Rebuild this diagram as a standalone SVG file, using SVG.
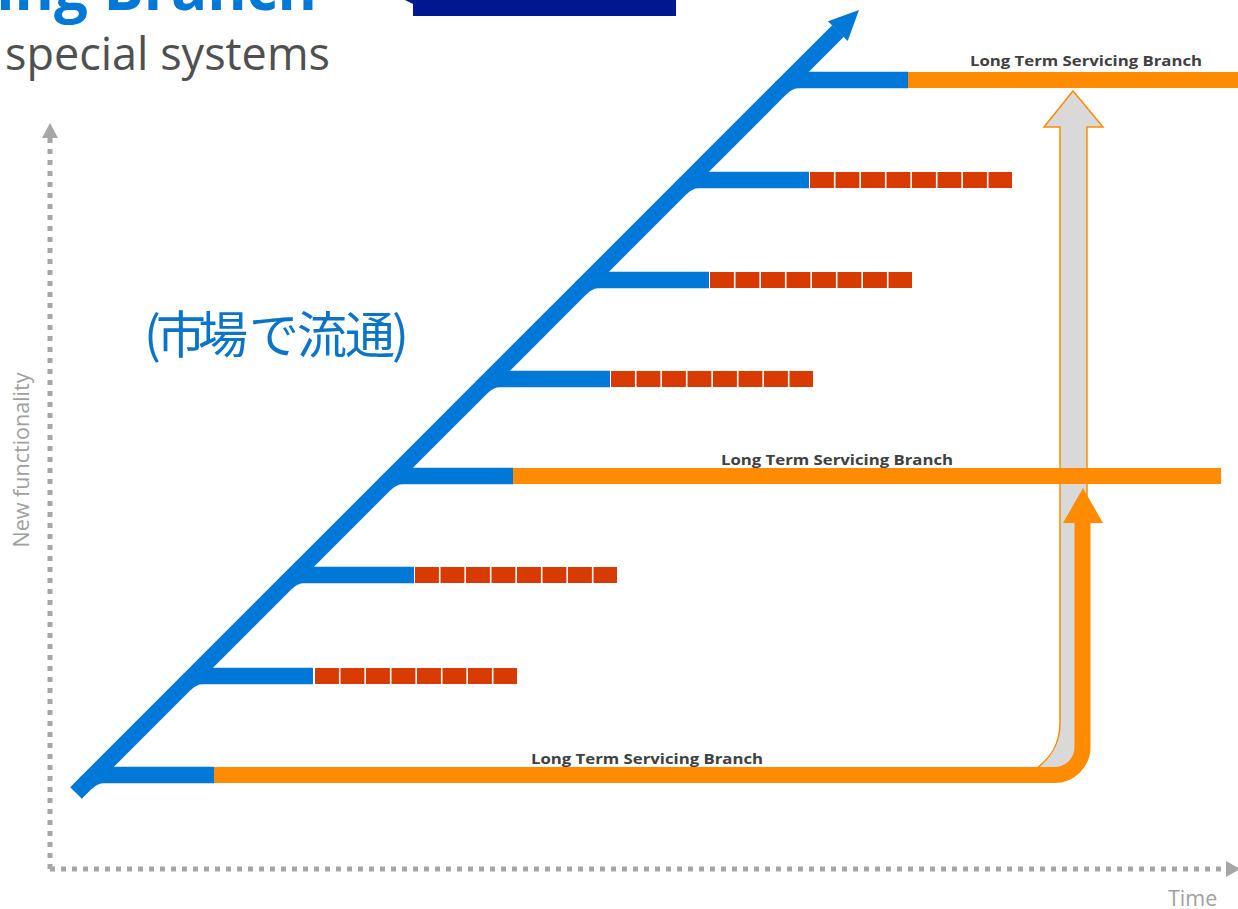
<svg xmlns="http://www.w3.org/2000/svg" width="1238" height="909" viewBox="0 0 1238 909">
<defs>
<style>
.blue{stroke:#0078D7;fill:none;stroke-width:16.5;stroke-linecap:butt}
.org{stroke:#FF8C00;fill:none;stroke-width:16;stroke-linecap:butt}
.red{stroke:#D83B01;fill:none;stroke-width:16;stroke-dasharray:23.9 1.6}
.axis{stroke:#A6A6A6;stroke-width:5;stroke-dasharray:5 6;fill:none}
.lbl{font-family:"Open Sans","Noto Sans","Liberation Sans",sans-serif;font-weight:bold;font-size:15px;fill:#404040;text-anchor:middle}
.axl{font-family:"Open Sans","Noto Sans","Liberation Sans",sans-serif;font-size:21.5px;fill:#A0A0A0}
</style>
</defs>
<rect width="1238" height="909" fill="#FFFFFF"/>
<g id="title">
<text x="317" y="10" text-anchor="end" font-family="'Open Sans','Noto Sans','Liberation Sans',sans-serif" font-weight="bold" font-size="60" fill="#0078D7">Long Term Servicing Branch</text>
<text x="330" y="70" text-anchor="end" font-family="'Open Sans','Noto Sans','Liberation Sans',sans-serif" font-weight="400" font-size="45" fill="#505050">for special systems</text>
<polygon points="405,0 676,0 676,16 413,16 413,4" fill="#00188F"/>
</g>
<g id="axes">
<line class="axis" x1="50" y1="869" x2="50" y2="138"/>
<polygon points="42,138 50,123 58,138" fill="#A6A6A6"/>
<line class="axis" x1="50" y1="869" x2="1226" y2="869"/>
<polygon points="1226,861 1240,869 1226,877" fill="#A6A6A6"/>
<text class="axl" x="1168" y="906">Time</text>
<text class="axl" transform="translate(29,460) rotate(-90)" text-anchor="middle">New functionality</text>
</g>
<g id="market-label">
<text font-family="'Noto Sans CJK JP','Noto Sans',sans-serif" font-size="50" fill="#0A74C9" y="353" x="144 156 198 249 297 345 392">(市場で流通)</text>
</g>
<g id="ltsb-upgrade-arrow">
<path d="M1060,127 L1044,127 L1073,91 L1103,127 L1087,127 L1087,747 A32.5,32.5 0 0 1 1054.5,779.5 L1037,779.5 L1037,768 C1050,758 1060,745 1060,723 Z" fill="#D9D9D9" stroke="#FF8C00" stroke-width="1.5" stroke-linejoin="miter"/>
</g>
<g id="connectors">
<path id="main-trunk" class="blue" stroke-width="17" d="M76,793 L838,31"/>
<polygon points="859,10 827.9,21.3 847.7,41.1" fill="#0078D7"/>
<path class="blue" d="M86,783 Q94,775 104,775 H214"/>
<path class="blue" d="M185,684 Q193,676 203,676 H313"/>
<path class="blue" d="M286,583 Q294,575 304,575 H414"/>
<path class="blue" d="M385,484 Q393,476 403,476 H513"/>
<path class="blue" d="M482,387 Q490,379 500,379 H610"/>
<path class="blue" d="M581,288 Q589,280 599,280 H709"/>
<path class="blue" d="M681,188 Q689,180 699,180 H809"/>
<path class="blue" d="M781,88 Q789,80 799,80 H908"/>
<line class="red" x1="315" y1="676" x2="517" y2="676"/>
<line class="red" x1="415" y1="575" x2="617" y2="575"/>
<line class="red" x1="611" y1="379" x2="813" y2="379"/>
<line class="red" x1="710" y1="280" x2="912" y2="280"/>
<line class="red" x1="810" y1="180" x2="1012" y2="180"/>
<line class="org" x1="513" y1="476" x2="1221" y2="476"/>
<line class="org" x1="908" y1="80" x2="1238" y2="80"/>
<path class="org" d="M214,775 H1054.5 A28,28 0 0 0 1082.5,747 V520"/>
<polygon points="1083,488 1063,523 1103,523" fill="#FF8C00"/>
</g>
<g id="labels">
<text class="lbl" x="1086" y="66" textLength="232" lengthAdjust="spacingAndGlyphs">Long Term Servicing Branch</text>
<text class="lbl" x="837" y="465" textLength="232" lengthAdjust="spacingAndGlyphs">Long Term Servicing Branch</text>
<text class="lbl" x="647" y="764" textLength="232" lengthAdjust="spacingAndGlyphs">Long Term Servicing Branch</text>
</g>
</svg>
